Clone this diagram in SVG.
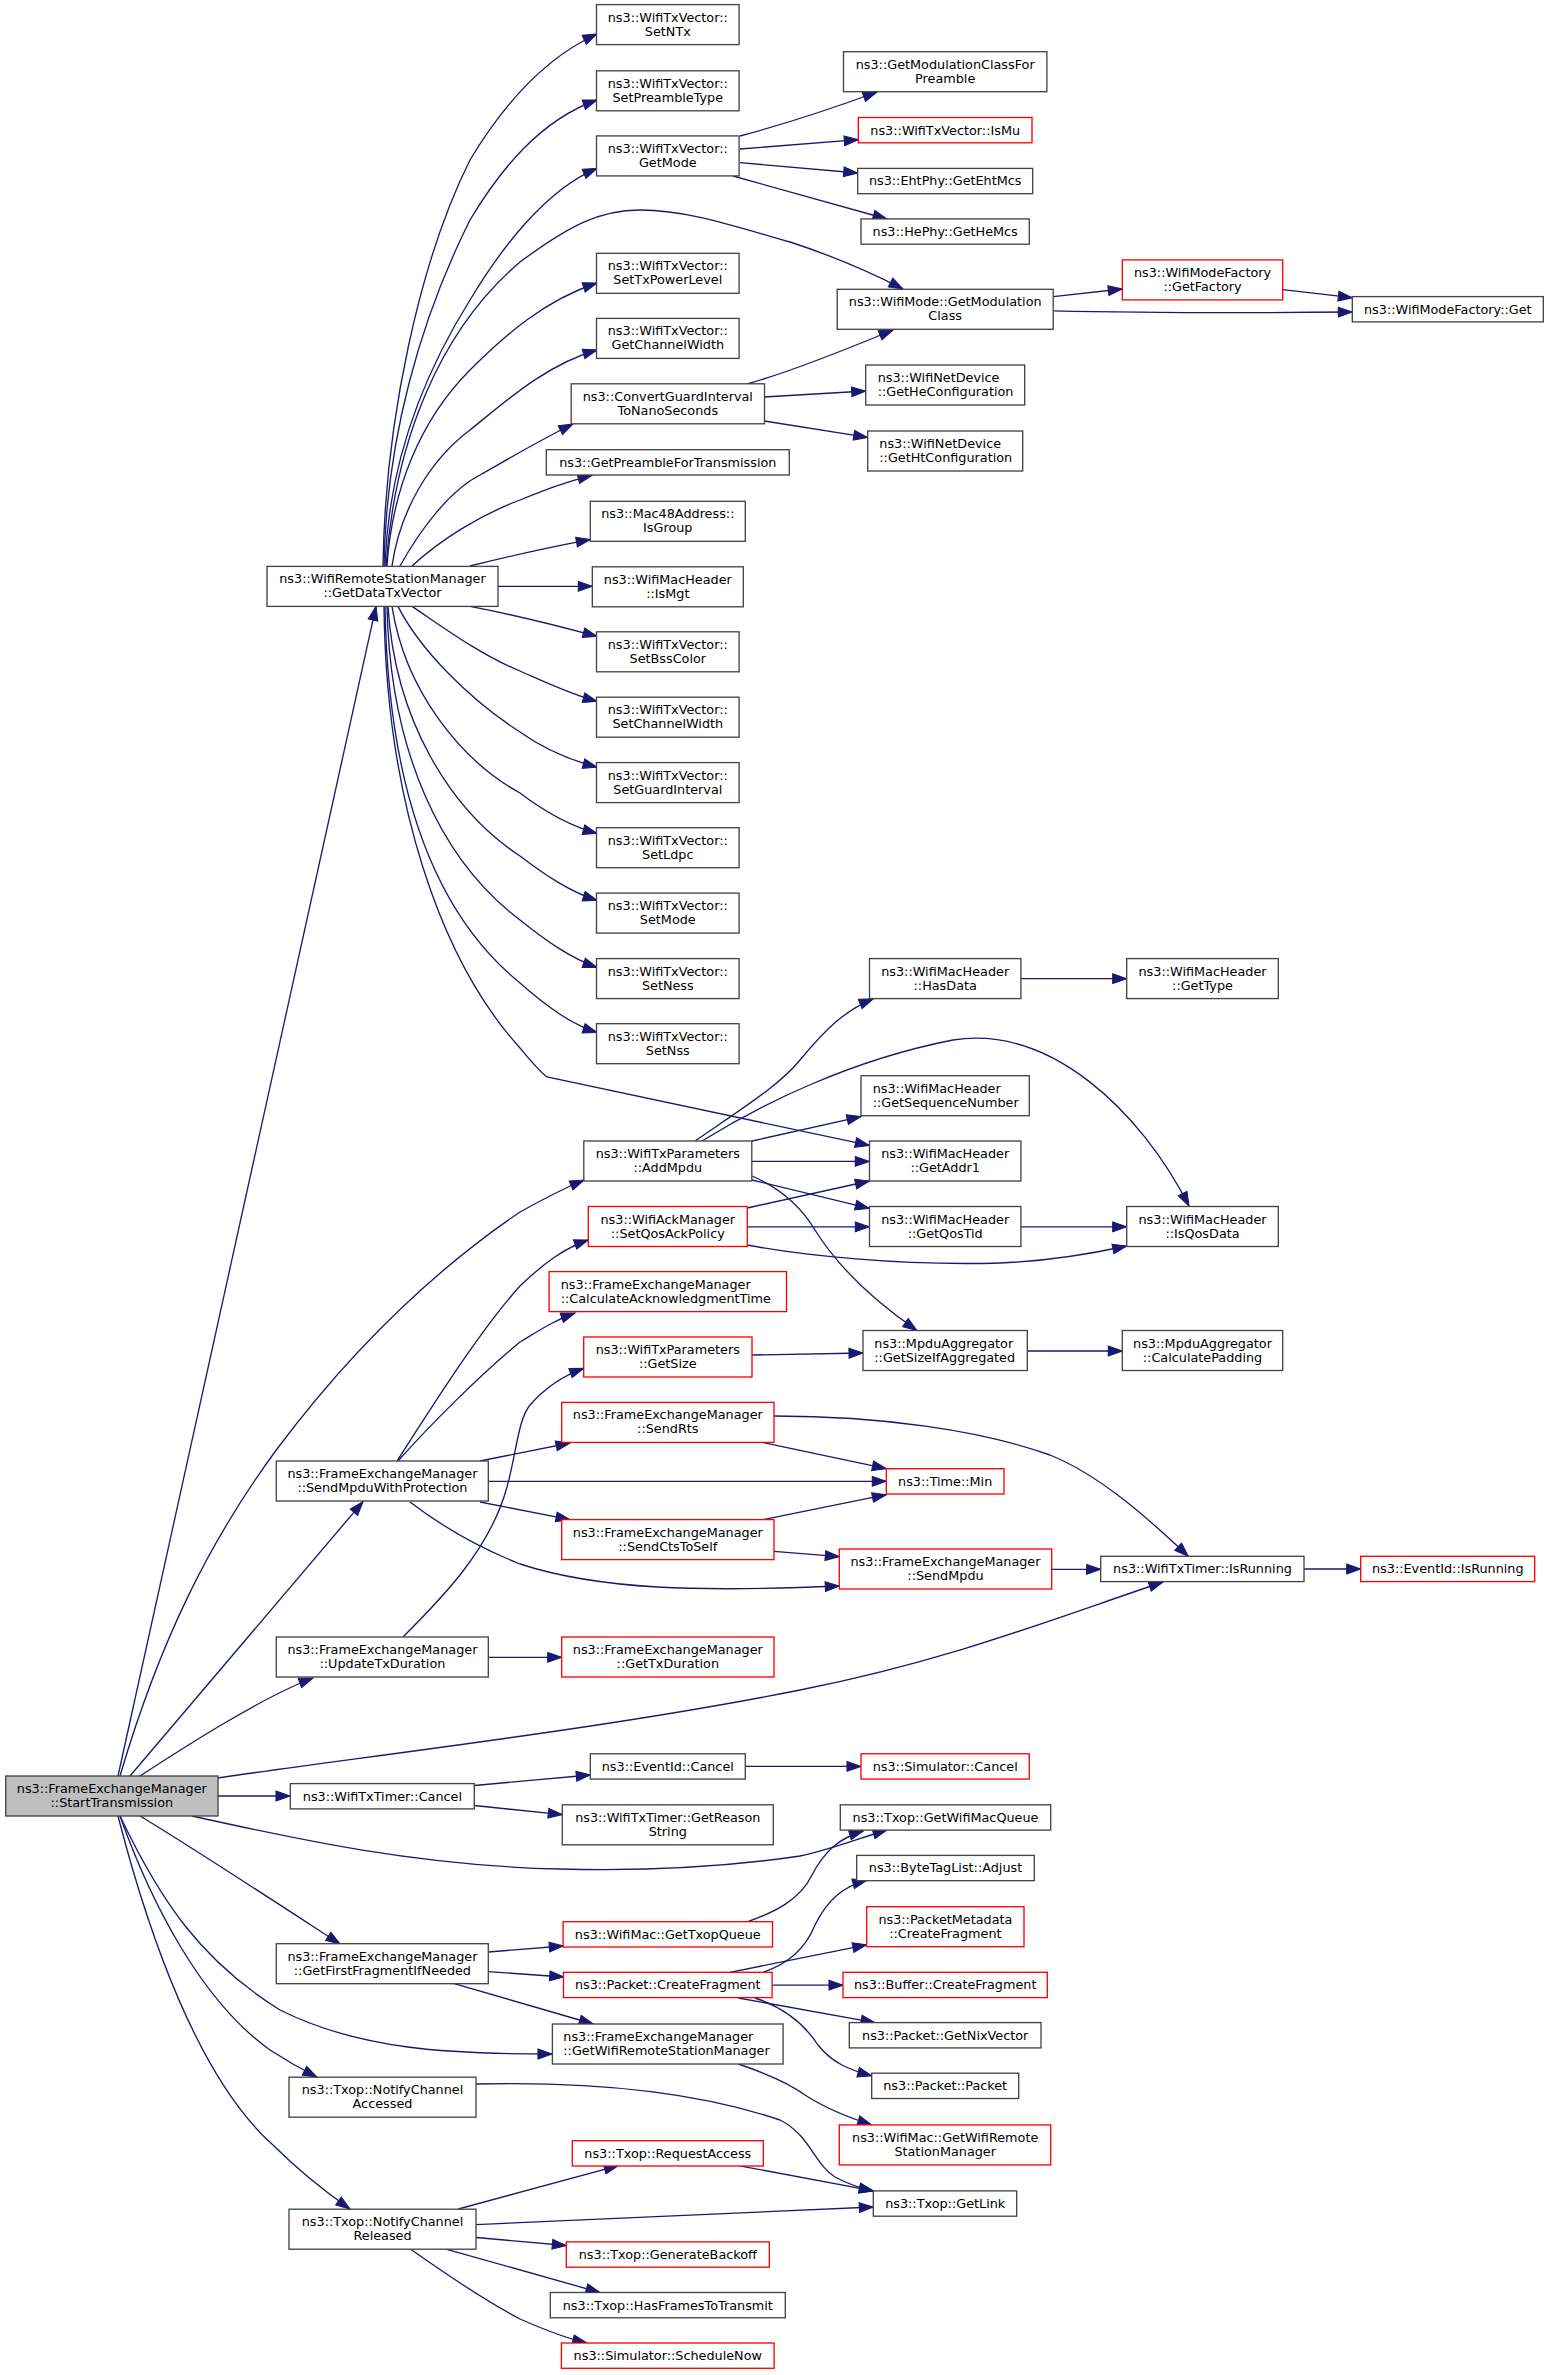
<svg xmlns="http://www.w3.org/2000/svg" width="1549" height="2375" viewBox="0 0 1549 2375">
<defs>
<style>
.n rect{fill:#ffffff;stroke:#444444;stroke-width:1.33}
.r rect{stroke:#ff0000}
.root rect{fill:#bfbfbf}
text{font-family:"DejaVu Sans","Noto Sans",sans-serif;font-size:12.8px;text-anchor:middle;fill:#000000}
.l text{text-anchor:start}
#edges path{fill:none;stroke:#191970;stroke-width:1.33;marker-end:url(#ah)}
</style>
<marker id="ah" markerUnits="userSpaceOnUse" markerWidth="14" markerHeight="10" refX="13.3" refY="4.67" orient="auto" viewBox="0 0 13.3 9.33" overflow="visible">
<path d="M0,0 L13.3,4.67 L0,9.33 z" fill="#191970" stroke="#191970" stroke-width="1"/>
</marker>
</defs>
<rect width="1549" height="2375" fill="#ffffff"/>
<g id="edges">
<!-- StartTransmission -->
<path d="M118,1776 L376,606.4"/>
<path d="M120,1776 C160,1640 210,1540 277,1449 C340,1365 420,1280 520,1212 C545,1198 565,1188 584,1180"/>
<path d="M130,1776 L363,1501.6"/>
<path d="M140,1776 C180,1750 260,1698 313,1678"/>
<path d="M218,1778 C350,1758 600,1730 800,1690 C950,1660 1050,1620 1163,1582"/>
<path d="M218,1796 L290,1796"/>
<path d="M192,1816 C300,1840 420,1866 560,1869 C680,1872 760,1862 800,1856 C830,1850 860,1838 887,1830"/>
<path d="M140,1816 C190,1846 280,1905 340,1944"/>
<path d="M120,1816 C160,1900 200,1960 280,2010 C360,2050 450,2054 552,2054"/>
<path d="M120,1816 C150,1900 200,2000 270,2050 C290,2063 305,2071 317,2077"/>
<path d="M118,1816 C150,1940 200,2080 273,2145 C300,2172 330,2195 350,2209"/>
<!-- GetDataTxVector -->
<path d="M383,566 C385,420 420,260 470,160 C500,110 540,60 597,34"/>
<path d="M384,566 C386,440 420,320 470,220 C500,170 540,120 597,100"/>
<path d="M385,566 C388,470 420,380 470,300 C500,250 545,190 597,168.4"/>
<path d="M386,566 C395,440 440,330 520,262 C570,225 600,210 640,210 C690,210 740,228 790,242 C830,255 870,272 903,289"/>
<path d="M387,566 C392,490 420,420 470,370 C505,335 545,300 597,283"/>
<path d="M392,566 C400,510 430,460 470,430 C505,402 545,365 597,350"/>
<path d="M400,566 C420,530 450,490 480,475 C510,458 540,440 573,424"/>
<path d="M412,566 C440,540 480,515 520,500 C545,490 565,482 592,475.3"/>
<path d="M470,566 C510,556 550,547 590.3,539.6"/>
<path d="M498,586.3 L592.3,586.3"/>
<path d="M470,606.4 C510,614 555,625 597,636.4"/>
<path d="M412,606.4 C440,625 480,655 520,671 C545,682 570,694 597,701.4"/>
<path d="M398,606.4 C420,650 470,700 520,732 C545,750 570,760 597,767.2"/>
<path d="M392,606.4 C405,690 460,760 520,793 C545,812 570,826 597,833.4"/>
<path d="M388,606.4 C395,720 450,810 520,856 C545,875 570,892 597,900.4"/>
<path d="M387,606.4 C390,750 440,860 520,920 C545,940 570,958 597,967.4"/>
<path d="M385,606.4 C388,780 430,910 520,983 C545,1005 570,1024 597,1032.5"/>
<path d="M384,606.4 C386,800 440,960 520,1048 C530,1060 538,1070 547,1077 L869.3,1145.4"/>
<!-- GetMode -->
<path d="M740,136 C770,128 820,113 877,92"/>
<path d="M740,149 L858.3,139.7"/>
<path d="M740,162.6 L857.7,173"/>
<path d="M733,176 L887,219"/>
<!-- ConvertGuardInterval -->
<path d="M747,384 C790,372 840,352 893,330"/>
<path d="M764.3,397 L865.7,391"/>
<path d="M764.3,421 L867.7,437.4"/>
<!-- GetModulationClass / Factory -->
<path d="M1053.3,296.6 L1122.3,289"/>
<path d="M1053.3,310.8 C1150,313 1250,313 1352.3,312"/>
<path d="M1282.7,289.7 L1352.3,297.7"/>
<!-- AddMpdu -->
<path d="M695,1141 C740,1110 780,1085 800,1060 C825,1030 845,1010 873.3,998.8"/>
<path d="M702,1141 C760,1105 850,1060 953,1040 C1050,1025 1140,1110 1189,1206"/>
<path d="M752,1141 L861,1116.6"/>
<path d="M752,1161.4 L869.3,1161.4"/>
<path d="M752,1180 L869.3,1208.4"/>
<path d="M752,1176 C780,1188 800,1205 815,1230 C840,1270 880,1305 917,1330.5"/>
<!-- SetQosAckPolicy -->
<path d="M747.3,1208 L869.3,1181"/>
<path d="M747.3,1226.8 L869.3,1226.8"/>
<path d="M747.3,1245 C800,1255 900,1266 1000,1263 C1050,1261 1090,1254 1126.7,1246"/>
<path d="M1020.7,1226.8 L1126.7,1226.8"/>
<path d="M1020.7,978.7 L1126.7,978.7"/>
<path d="M752,1355 L863,1353"/>
<path d="M1027.3,1351 L1122.3,1351"/>
<!-- SendMpduWithProtection -->
<path d="M397,1461 C430,1410 480,1330 520,1286 C545,1262 565,1248 588.3,1240"/>
<path d="M398,1461 C430,1425 480,1375 520,1342 C540,1330 555,1320 575,1313"/>
<path d="M480,1461 L570,1443"/>
<path d="M488.3,1481.3 L886.3,1481.3"/>
<path d="M480,1502 L570,1519.6"/>
<path d="M410,1502 C440,1525 480,1548 520,1564 C600,1590 700,1592 839.3,1586"/>
<!-- UpdateTxDuration -->
<path d="M403,1637 C440,1600 490,1550 507,1487 C517,1450 518,1420 530,1405 C545,1388 565,1375 583.7,1368.4"/>
<path d="M488.3,1657.3 L561.7,1657.3"/>
<!-- SendRts / SendCtsToSelf / SendMpdu -->
<path d="M763.3,1442.6 L886.3,1468.7"/>
<path d="M774,1416 C880,1416 980,1430 1050,1455 C1100,1475 1150,1520 1188.3,1556.3"/>
<path d="M763.3,1519.6 L886.3,1494.7"/>
<path d="M774,1551.3 L839.3,1556.7"/>
<path d="M1051.7,1569.3 L1100.7,1569.3"/>
<path d="M1304,1569 L1360.7,1569"/>
<!-- WifiTxTimer::Cancel -->
<path d="M474.3,1785.5 L590.3,1775"/>
<path d="M474.3,1805.5 L562.3,1814.7"/>
<path d="M745.3,1766.4 L861,1766.4"/>
<!-- GetFirstFragmentIfNeeded -->
<path d="M488.3,1952 L563.3,1946"/>
<path d="M488.3,1971.6 L563.7,1977"/>
<path d="M453.3,1983.3 L593.3,2024"/>
<path d="M747,1922 C775,1912 800,1900 812,1875 C825,1850 840,1838 863.3,1831"/>
<!-- Packet::CreateFragment -->
<path d="M763,1972.3 C785,1965 805,1950 815,1925 C828,1898 845,1886 866.7,1880.3"/>
<path d="M730,1972.3 L866.7,1944.8"/>
<path d="M772.3,1985.2 L843,1985.2"/>
<path d="M738.3,1998 L875,2022.6"/>
<path d="M755,1998 C785,2008 805,2025 818,2045 C832,2063 850,2070 871.7,2075.8"/>
<path d="M738.3,2064 C765,2073 790,2084 805,2095 C825,2108 850,2118 871.7,2124.9"/>
<!-- NotifyChannel -->
<path d="M476,2084 C560,2082 680,2086 780,2120 C810,2135 815,2165 835,2177 C848,2184 860,2188 873.3,2190.9"/>
<path d="M458.3,2209 L618.3,2165.6"/>
<path d="M476,2224.6 L873.3,2207"/>
<path d="M476,2237.5 L566.3,2245.5"/>
<path d="M445,2248.8 L600,2292.5"/>
<path d="M410,2248.8 C440,2270 480,2298 520,2319 C545,2330 565,2338 586.7,2343"/>
<path d="M738.3,2165.6 L873.3,2190.9"/>
</g>
<!-- Nodes -->
<g id="n_root" class="n root"><rect x="5.7" y="1776" width="212.3" height="40"/><text x="111.8" y="1793">ns3::FrameExchangeManager</text><text x="111.8" y="1807">::StartTransmission</text></g>
<g id="n_gdtv" class="n"><rect x="267" y="566.4" width="231" height="40"/><text x="382.5" y="583.4">ns3::WifiRemoteStationManager</text><text x="382.5" y="597.4">::GetDataTxVector</text></g>
<g id="n_setntx" class="n"><rect x="596.5" y="4.6" width="142.6" height="40"/><text x="667.8" y="21.6">ns3::WifiTxVector::</text><text x="667.8" y="35.6">SetNTx</text></g>
<g id="n_setpre" class="n"><rect x="596.5" y="70.8" width="142.6" height="40"/><text x="667.8" y="87.8">ns3::WifiTxVector::</text><text x="667.8" y="101.8">SetPreambleType</text></g>
<g id="n_getmode" class="n"><rect x="596.5" y="135.9" width="142.6" height="40"/><text x="667.8" y="152.9">ns3::WifiTxVector::</text><text x="667.8" y="166.9">GetMode</text></g>
<g id="n_settxp" class="n"><rect x="596.5" y="253.3" width="142.6" height="40"/><text x="667.8" y="270.3">ns3::WifiTxVector::</text><text x="667.8" y="284.3">SetTxPowerLevel</text></g>
<g id="n_getchw" class="n"><rect x="596.5" y="318.4" width="142.6" height="40"/><text x="667.8" y="335.4">ns3::WifiTxVector::</text><text x="667.8" y="349.4">GetChannelWidth</text></g>
<g id="n_convgi" class="n"><rect x="571.2" y="383.8" width="193.3" height="40"/><text x="667.8" y="400.8">ns3::ConvertGuardInterval</text><text x="667.8" y="414.8">ToNanoSeconds</text></g>
<g id="n_getpre" class="n"><rect x="546.3" y="449.7" width="243" height="25.3"/><text x="667.8" y="466.7">ns3::GetPreambleForTransmission</text></g>
<g id="n_isgroup" class="n"><rect x="590.3" y="501.3" width="155" height="40"/><text x="667.8" y="518.3">ns3::Mac48Address::</text><text x="667.8" y="532.3">IsGroup</text></g>
<g id="n_ismgt" class="n"><rect x="592.3" y="566.8" width="151" height="40"/><text x="667.8" y="583.8">ns3::WifiMacHeader</text><text x="667.8" y="597.8">::IsMgt</text></g>
<g id="n_setbss" class="n"><rect x="596.5" y="631.8" width="142.6" height="40"/><text x="667.8" y="648.8">ns3::WifiTxVector::</text><text x="667.8" y="662.8">SetBssColor</text></g>
<g id="n_setchw" class="n"><rect x="596.5" y="697.2" width="142.6" height="40"/><text x="667.8" y="714.2">ns3::WifiTxVector::</text><text x="667.8" y="728.2">SetChannelWidth</text></g>
<g id="n_setgi" class="n"><rect x="596.5" y="762.6" width="142.6" height="40"/><text x="667.8" y="779.6">ns3::WifiTxVector::</text><text x="667.8" y="793.6">SetGuardInterval</text></g>
<g id="n_setldpc" class="n"><rect x="596.5" y="827.7" width="142.6" height="40"/><text x="667.8" y="844.7">ns3::WifiTxVector::</text><text x="667.8" y="858.7">SetLdpc</text></g>
<g id="n_setmode" class="n"><rect x="596.5" y="893.1" width="142.6" height="40"/><text x="667.8" y="910.1">ns3::WifiTxVector::</text><text x="667.8" y="924.1">SetMode</text></g>
<g id="n_setness" class="n"><rect x="596.5" y="958.6" width="142.6" height="40"/><text x="667.8" y="975.6">ns3::WifiTxVector::</text><text x="667.8" y="989.6">SetNess</text></g>
<g id="n_setnss" class="n"><rect x="596.5" y="1023.7" width="142.6" height="40"/><text x="667.8" y="1040.7">ns3::WifiTxVector::</text><text x="667.8" y="1054.7">SetNss</text></g>
<g id="n_addmpdu" class="n"><rect x="583.8" y="1141" width="168" height="40"/><text x="667.8" y="1158">ns3::WifiTxParameters</text><text x="667.8" y="1172">::AddMpdu</text></g>
<g id="n_setqos" class="n r"><rect x="588.3" y="1206.5" width="159" height="40"/><text x="667.8" y="1223.5">ns3::WifiAckManager</text><text x="667.8" y="1237.5">::SetQosAckPolicy</text></g>
<g id="n_calcack" class="n r l"><rect x="549.1" y="1271.6" width="237.4" height="40"/><text x="560.7" y="1288.6">ns3::FrameExchangeManager</text><text x="560.7" y="1302.6">::CalculateAcknowledgmentTime</text></g>
<g id="n_getsize" class="n r"><rect x="583.7" y="1337" width="168.3" height="40"/><text x="667.8" y="1354">ns3::WifiTxParameters</text><text x="667.8" y="1368">::GetSize</text></g>
<g id="n_sendrts" class="n r"><rect x="561.7" y="1402.4" width="212.3" height="40"/><text x="667.8" y="1419.4">ns3::FrameExchangeManager</text><text x="667.8" y="1433.4">::SendRts</text></g>
<g id="n_sendcts" class="n r"><rect x="561.7" y="1519.6" width="212.3" height="40"/><text x="667.8" y="1536.6">ns3::FrameExchangeManager</text><text x="667.8" y="1550.6">::SendCtsToSelf</text></g>
<g id="n_gettxdur" class="n r"><rect x="561.7" y="1637" width="212.3" height="40"/><text x="667.8" y="1654">ns3::FrameExchangeManager</text><text x="667.8" y="1668">::GetTxDuration</text></g>
<g id="n_evcancel" class="n"><rect x="590.3" y="1753.8" width="155" height="25.3"/><text x="667.8" y="1770.8">ns3::EventId::Cancel</text></g>
<g id="n_getreason" class="n"><rect x="562.3" y="1804.8" width="211" height="40"/><text x="667.8" y="1821.8">ns3::WifiTxTimer::GetReason</text><text x="667.8" y="1835.8">String</text></g>
<g id="n_gettxopq" class="n r"><rect x="563.1" y="1921.7" width="209.4" height="25.3"/><text x="667.8" y="1938.7">ns3::WifiMac::GetTxopQueue</text></g>
<g id="n_pktcf" class="n r"><rect x="563.5" y="1972.3" width="208.6" height="25.3"/><text x="667.8" y="1989.3">ns3::Packet::CreateFragment</text></g>
<g id="n_femgwrsm" class="n l"><rect x="552.4" y="2024" width="230.7" height="40"/><text x="563.3" y="2041">ns3::FrameExchangeManager</text><text x="563.3" y="2055">::GetWifiRemoteStationManager</text></g>
<g id="n_reqacc" class="n r"><rect x="572.3" y="2140.7" width="191" height="25.3"/><text x="667.8" y="2157.7">ns3::Txop::RequestAccess</text></g>
<g id="n_genbo" class="n r"><rect x="566.3" y="2241.9" width="203" height="25.3"/><text x="667.8" y="2258.9">ns3::Txop::GenerateBackoff</text></g>
<g id="n_hasft" class="n"><rect x="550.3" y="2292.5" width="235" height="25.3"/><text x="667.8" y="2309.5">ns3::Txop::HasFramesToTransmit</text></g>
<g id="n_schednow" class="n r"><rect x="561.4" y="2343" width="212.7" height="25.3"/><text x="667.8" y="2360">ns3::Simulator::ScheduleNow</text></g>
<g id="n_gmcfp" class="n"><rect x="843.5" y="51.7" width="203.4" height="40"/><text x="945.2" y="68.7">ns3::GetModulationClassFor</text><text x="945.2" y="82.7">Preamble</text></g>
<g id="n_ismu" class="n r"><rect x="858.3" y="117.5" width="173.7" height="25.3"/><text x="945.2" y="134.5">ns3::WifiTxVector::IsMu</text></g>
<g id="n_getehtmcs" class="n"><rect x="857.7" y="168.4" width="175" height="25.3"/><text x="945.2" y="185.4">ns3::EhtPhy::GetEhtMcs</text></g>
<g id="n_gethemcs" class="n"><rect x="861" y="218.9" width="168.3" height="25.3"/><text x="945.2" y="235.9">ns3::HePhy::GetHeMcs</text></g>
<g id="n_getmodcls" class="n"><rect x="837.2" y="289.3" width="216" height="40"/><text x="945.2" y="306.3">ns3::WifiMode::GetModulation</text><text x="945.2" y="320.3">Class</text></g>
<g id="n_gethecfg" class="n l"><rect x="865.7" y="365" width="159" height="40"/><text x="877.7" y="382">ns3::WifiNetDevice</text><text x="877.7" y="396">::GetHeConfiguration</text></g>
<g id="n_gethtcfg" class="n l"><rect x="867.7" y="431" width="155" height="40"/><text x="879.3" y="448">ns3::WifiNetDevice</text><text x="879.3" y="462">::GetHtConfiguration</text></g>
<g id="n_hasdata" class="n"><rect x="869.5" y="958.6" width="151.4" height="40"/><text x="945.2" y="975.6">ns3::WifiMacHeader</text><text x="945.2" y="989.6">::HasData</text></g>
<g id="n_getseq" class="n l"><rect x="861" y="1075.7" width="168.3" height="40"/><text x="872.7" y="1092.7">ns3::WifiMacHeader</text><text x="872.7" y="1106.7">::GetSequenceNumber</text></g>
<g id="n_getaddr1" class="n"><rect x="869.5" y="1141" width="151.4" height="40"/><text x="945.2" y="1158">ns3::WifiMacHeader</text><text x="945.2" y="1172">::GetAddr1</text></g>
<g id="n_getqostid" class="n"><rect x="869.5" y="1206.5" width="151.4" height="40"/><text x="945.2" y="1223.5">ns3::WifiMacHeader</text><text x="945.2" y="1237.5">::GetQosTid</text></g>
<g id="n_getsizeagg" class="n l"><rect x="863" y="1330.5" width="164.3" height="40"/><text x="874.3" y="1347.5">ns3::MpduAggregator</text><text x="874.3" y="1361.5">::GetSizeIfAggregated</text></g>
<g id="n_timemin" class="n r"><rect x="886.3" y="1468.7" width="117.7" height="25.3"/><text x="945.2" y="1485.7">ns3::Time::Min</text></g>
<g id="n_sendmpdu" class="n r"><rect x="839.3" y="1549" width="212.4" height="40"/><text x="945.5" y="1566">ns3::FrameExchangeManager</text><text x="945.5" y="1580">::SendMpdu</text></g>
<g id="n_simcancel" class="n r"><rect x="861" y="1753.8" width="168.3" height="25.3"/><text x="945.2" y="1770.8">ns3::Simulator::Cancel</text></g>
<g id="n_getwmq" class="n"><rect x="840.3" y="1804.8" width="210.4" height="25.3"/><text x="945.5" y="1821.8">ns3::Txop::GetWifiMacQueue</text></g>
<g id="n_btladj" class="n"><rect x="856.7" y="1855.4" width="177.6" height="25.3"/><text x="945.5" y="1872.4">ns3::ByteTagList::Adjust</text></g>
<g id="n_pmcf" class="n r"><rect x="866.7" y="1906.7" width="157.3" height="40"/><text x="945.4" y="1923.7">ns3::PacketMetadata</text><text x="945.4" y="1937.7">::CreateFragment</text></g>
<g id="n_bufcf" class="n r"><rect x="843" y="1972.3" width="204.3" height="25.3"/><text x="945.2" y="1989.3">ns3::Buffer::CreateFragment</text></g>
<g id="n_getnix" class="n"><rect x="849.3" y="2022.6" width="191.7" height="25.3"/><text x="945.2" y="2039.6">ns3::Packet::GetNixVector</text></g>
<g id="n_pktpkt" class="n"><rect x="871.7" y="2073.2" width="147" height="25.3"/><text x="945.2" y="2090.2">ns3::Packet::Packet</text></g>
<g id="n_wmgwrsm" class="n r"><rect x="839.3" y="2124.9" width="211.4" height="40"/><text x="945.2" y="2141.9">ns3::WifiMac::GetWifiRemote</text><text x="945.2" y="2155.9">StationManager</text></g>
<g id="n_getlink" class="n"><rect x="873.3" y="2190.9" width="143.4" height="25.3"/><text x="945.2" y="2207.9">ns3::Txop::GetLink</text></g>
<g id="n_getfactory" class="n r"><rect x="1122.3" y="259.9" width="160.4" height="40"/><text x="1202.5" y="276.9">ns3::WifiModeFactory</text><text x="1202.5" y="290.9">::GetFactory</text></g>
<g id="n_gettype" class="n"><rect x="1126.7" y="958.6" width="151.6" height="40"/><text x="1202.5" y="975.6">ns3::WifiMacHeader</text><text x="1202.5" y="989.6">::GetType</text></g>
<g id="n_isqosdata" class="n"><rect x="1126.7" y="1206.5" width="151.6" height="40"/><text x="1202.5" y="1223.5">ns3::WifiMacHeader</text><text x="1202.5" y="1237.5">::IsQosData</text></g>
<g id="n_calcpad" class="n"><rect x="1122.3" y="1330.5" width="160.4" height="40"/><text x="1202.5" y="1347.5">ns3::MpduAggregator</text><text x="1202.5" y="1361.5">::CalculatePadding</text></g>
<g id="n_isrunning" class="n"><rect x="1100.7" y="1556.3" width="203.3" height="25.3"/><text x="1202.5" y="1573.3">ns3::WifiTxTimer::IsRunning</text></g>
<g id="n_wmfget" class="n"><rect x="1352.3" y="296.6" width="191" height="25.3"/><text x="1447.8" y="313.6">ns3::WifiModeFactory::Get</text></g>
<g id="n_evisrun" class="n r"><rect x="1360.7" y="1556.3" width="174" height="25.3"/><text x="1447.8" y="1573.3">ns3::EventId::IsRunning</text></g>
<g id="n_smp" class="n"><rect x="276.3" y="1461" width="212" height="40"/><text x="382.4" y="1478">ns3::FrameExchangeManager</text><text x="382.4" y="1492">::SendMpduWithProtection</text></g>
<g id="n_updtx" class="n"><rect x="276.3" y="1637" width="212" height="40"/><text x="382.4" y="1654">ns3::FrameExchangeManager</text><text x="382.4" y="1668">::UpdateTxDuration</text></g>
<g id="n_txtcancel" class="n"><rect x="290.3" y="1783.6" width="184" height="25.3"/><text x="382.4" y="1800.6">ns3::WifiTxTimer::Cancel</text></g>
<g id="n_gff" class="n"><rect x="276.3" y="1943.7" width="212" height="40"/><text x="382.4" y="1960.7">ns3::FrameExchangeManager</text><text x="382.4" y="1974.7">::GetFirstFragmentIfNeeded</text></g>
<g id="n_nca" class="n"><rect x="289" y="2077.2" width="187" height="40"/><text x="382.5" y="2094.2">ns3::Txop::NotifyChannel</text><text x="382.5" y="2108.2">Accessed</text></g>
<g id="n_ncr" class="n"><rect x="289" y="2209.2" width="187" height="40"/><text x="382.5" y="2226.2">ns3::Txop::NotifyChannel</text><text x="382.5" y="2240.2">Released</text></g>
</svg>
